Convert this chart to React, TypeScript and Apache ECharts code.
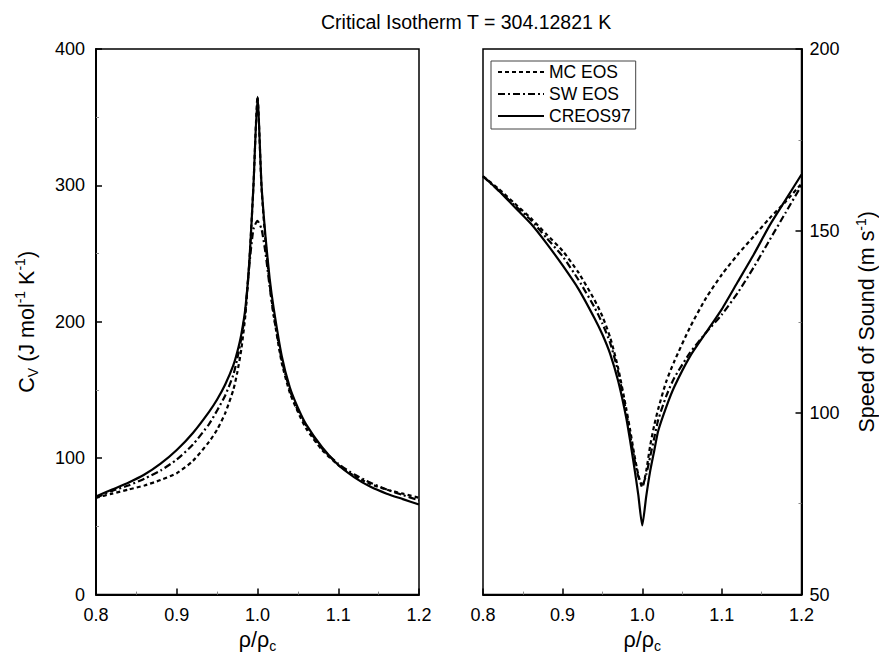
import React, { useEffect, useRef } from "react";
import * as echarts from "echarts";

// Left panel: isochoric heat capacity vs reduced density
const rhoCv = [0.80, 0.82, 0.84, 0.86, 0.88, 0.90, 0.92, 0.94, 0.95, 0.96, 0.97, 0.975, 0.98, 0.985, 0.99, 0.995, 1.0, 1.005, 1.01, 1.015, 1.02, 1.03, 1.04, 1.05, 1.06, 1.08, 1.10, 1.12, 1.14, 1.16, 1.18, 1.20];
const cvCREOS = [72, 77, 82, 88, 96, 106, 118.5, 134, 143, 154, 168, 178, 191, 210, 245, 300, 365, 300, 262, 232, 210, 175, 152, 137, 125, 108, 95, 86, 79, 74, 70, 66];
const cvMC = [71, 74, 77, 80, 84, 89, 98, 112, 121, 133, 150, 163, 180, 205, 245, 300, 365, 298, 258, 228, 205, 170, 148, 134, 122, 106, 95, 87, 81, 77, 74, 71];
const cvSW = [71, 76, 80, 85, 91, 99, 110, 125, 135, 146, 161, 173, 188, 208, 242, 268, 274, 268, 250, 226, 205, 172, 150, 135, 124, 107, 96, 88, 82, 77, 73, 69];

// Right panel: speed of sound vs reduced density
const rhoU = [0.80, 0.82, 0.84, 0.86, 0.88, 0.90, 0.92, 0.94, 0.95, 0.96, 0.97, 0.98, 0.985, 0.99, 0.995, 1.0, 1.005, 1.01, 1.015, 1.02, 1.03, 1.04, 1.06, 1.08, 1.10, 1.12, 1.14, 1.16, 1.18, 1.20];
const uCREOS = [165, 161, 156.5, 152, 146.5, 140.5, 134, 126, 121.5, 116, 108.5, 98.5, 92, 85, 77.5, 69, 77, 84, 89.5, 95, 101.5, 107, 115.5, 122, 128.5, 136, 143.5, 151.5, 158.5, 165.5];
const uMC = [165, 161.5, 157.5, 153.5, 149, 144.5, 138.5, 131, 126.5, 120.5, 112, 101, 95, 88.5, 83, 79.5, 84, 91, 96.5, 101, 108.5, 114, 123.5, 131.5, 138, 143.5, 148.5, 153.5, 158, 163];
const uSW = [165, 161, 157, 153, 148, 143, 136.5, 129, 124.5, 119, 111, 100, 93.5, 87.5, 82.5, 80, 83, 88, 93, 98, 104.5, 109.5, 116.5, 122, 127, 133, 140, 147.5, 155, 162.5];

const seriesNames = ["MC EOS", "SW EOS", "CREOS97"];
const titleText = "Critical Isotherm T = 304.12821 K";

const FONT = "Liberation Sans, Arial, Helvetica, sans-serif";

const pairs = (xs: number[], ys: number[]) => xs.map((x, i) => [x, ys[i]]);

const dashMC = [4, 3];
const dashSW = [7, 3, 2, 3];

export default function App() {
  const ref = useRef<HTMLDivElement>(null);
  useEffect(() => {
    if (!ref.current) return;
    const chart = echarts.init(ref.current, null, { renderer: "svg" });

    const rich = {
      b: { fontSize: 21.5, fontFamily: FONT, color: "#000", lineHeight: 27, verticalAlign: "middle" },
      sub: { fontSize: 14, fontFamily: FONT, color: "#000", lineHeight: 13, verticalAlign: "bottom" },
      sup: { fontSize: 14, fontFamily: FONT, color: "#000", lineHeight: 13, verticalAlign: "top" },
    };

    const xAxisBase = (gridIndex: number) => ({
      type: "value",
      gridIndex,
      min: 0.8,
      max: 1.2,
      interval: 0.1,
      name: "{b|ρ/ρ}{sub|c}",
      nameLocation: "middle",
      nameGap: 31,
      nameTextStyle: { rich },
      axisLine: { show: true, onZero: false, lineStyle: { color: "#000", width: 2 } },
      axisTick: { show: true, inside: true, length: 6, lineStyle: { color: "#000", width: 1.5 } },
      minorTick: { show: true, splitNumber: 2, length: 3, lineStyle: { color: "#888", width: 1 } },
      splitLine: { show: false },
      minorSplitLine: { show: false },
      axisLabel: {
        color: "#000",
        fontSize: 18,
        fontFamily: FONT,
        margin: 11,
        formatter: (v: number) => v.toFixed(1),
      },
    });

    const lineSeries = (
      name: string,
      data: number[][],
      type: any,
      axisIndex: number
    ) => ({
      type: "line",
      name,
      xAxisIndex: axisIndex,
      yAxisIndex: axisIndex,
      data,
      symbol: "none",
      smooth: 0.2,
      lineStyle: { color: "#000", width: 2.2, type },
      itemStyle: { color: "#000" },
      z: name === "CREOS97" ? 3 : 4,
    });

    chart.setOption({
      animation: false,
      backgroundColor: "#fff",
      title: {
        text: titleText,
        left: 316,
        top: 7,
        textStyle: { fontSize: 19.5, fontWeight: "normal", fontFamily: FONT, color: "#000" },
      },
      legend: {
        data: seriesNames,
        orient: "vertical",
        left: 491,
        top: 61,
        itemWidth: 46,
        itemHeight: 14,
        itemGap: 4,
        padding: [2, 5, 4, 6],
        borderColor: "#444",
        borderWidth: 1,
        itemStyle: { color: "rgba(0,0,0,0)", borderColor: "rgba(0,0,0,0)", borderWidth: 0, opacity: 0 },
        textStyle: { fontSize: 17.5, lineHeight: 18, fontFamily: FONT, color: "#000" },
        selectedMode: false,
      },
      grid: [
        { left: 96, right: 460, top: 49, bottom: 61, show: true, borderColor: "#000", borderWidth: 1.5, backgroundColor: "transparent" },
        { left: 483, right: 75, top: 49, bottom: 61, show: true, borderColor: "#000", borderWidth: 1.5, backgroundColor: "transparent" },
      ],
      xAxis: [xAxisBase(0), xAxisBase(1)],
      yAxis: [
        {
          type: "value",
          gridIndex: 0,
          min: 0,
          max: 400,
          interval: 100,
          position: "left",
          name: "{b|C}{sub|V}{b| (J mol}{sup|-1}{b| K}{sup|-1}{b|)}",
          nameLocation: "middle",
          nameRotate: 90,
          nameGap: 56,
          nameTextStyle: { rich },
          axisLine: { show: true, lineStyle: { color: "#000", width: 2 } },
          axisTick: { show: true, inside: true, length: 6, lineStyle: { color: "#000", width: 1.5 } },
          minorTick: { show: true, splitNumber: 2, length: 3, lineStyle: { color: "#888", width: 1 } },
          splitLine: { show: false },
          axisLabel: { color: "#000", fontSize: 18, fontFamily: FONT, margin: 11 },
        },
        {
          type: "value",
          gridIndex: 1,
          min: 50,
          max: 200,
          interval: 50,
          position: "right",
          name: "{b|Speed of Sound (m s}{sup|-1}{b|)}",
          nameLocation: "middle",
          nameRotate: 90,
          nameGap: 52,
          nameTextStyle: { rich },
          axisLine: { show: true, lineStyle: { color: "#000", width: 2 } },
          axisTick: { show: true, inside: true, length: 6, lineStyle: { color: "#000", width: 1.5 } },
          minorTick: { show: true, splitNumber: 2, length: 3, lineStyle: { color: "#888", width: 1 } },
          splitLine: { show: false },
          axisLabel: { color: "#000", fontSize: 18, fontFamily: FONT, margin: 8 },
        },
      ],
      series: [
        lineSeries("MC EOS", pairs(rhoCv, cvMC), dashMC, 0),
        lineSeries("SW EOS", pairs(rhoCv, cvSW), dashSW, 0),
        lineSeries("CREOS97", pairs(rhoCv, cvCREOS), "solid", 0),
        lineSeries("MC EOS", pairs(rhoU, uMC), dashMC, 1),
        lineSeries("SW EOS", pairs(rhoU, uSW), dashSW, 1),
        lineSeries("CREOS97", pairs(rhoU, uCREOS), "solid", 1),
      ],
    });

    return () => chart.dispose();
  }, []);

  return (
    <div
      ref={ref}
      style={{ position: "fixed", left: 0, top: 0, width: 879, height: 658, background: "#fff" }}
    />
  );
}
